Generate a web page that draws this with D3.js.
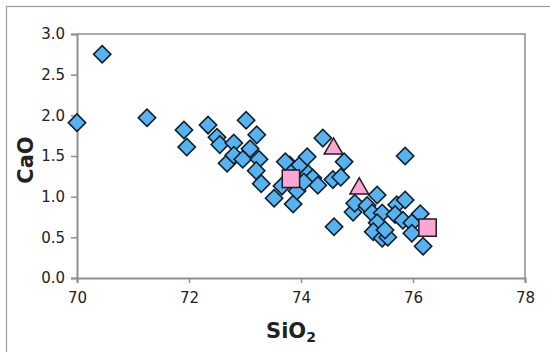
<!DOCTYPE html>
<html>
<head>
<meta charset="utf-8">
<script src="https://cdn.jsdelivr.net/npm/d3@7"></script>
<style>
  html, body { margin: 0; padding: 0; background: #fff; }
  svg { display: block; }
  text { font-family: "DejaVu Sans", Verdana, sans-serif; fill: #222; }
</style>
</head>
<body>
<svg id="chart" width="550" height="352"></svg>
<script>
// SiO2 (wt%) and CaO (wt%) for the sample set
const sio2 = [
  70.00, 70.45, 71.25, 71.91, 71.96, 72.34, 72.50, 72.55, 72.80, 72.68,
  72.80, 73.02, 73.21, 73.09, 72.96, 73.25, 73.20, 73.29, 73.52, 73.86,
  73.80, 73.66, 73.98, 74.11, 74.13, 74.21, 74.30, 74.39, 74.57, 74.71,
  74.77, 74.59, 74.93, 74.96, 75.18, 75.36, 75.27, 75.45, 75.36, 75.29,
  75.45, 75.55, 75.71, 75.86, 75.68, 75.82, 75.98, 76.13, 75.98, 76.18,
  75.86, 75.50, 73.93, 74.05, 73.72
];
const cao = [
  1.91, 2.75, 1.97, 1.82, 1.61, 1.88, 1.73, 1.64, 1.66, 1.41,
  1.51, 1.94, 1.76, 1.59, 1.46, 1.46, 1.32, 1.16, 0.98, 0.91,
  1.39, 1.13, 1.39, 1.49, 1.28, 1.23, 1.14, 1.72, 1.21, 1.24,
  1.43, 0.63, 0.81, 0.92, 0.89, 1.02, 0.80, 0.80, 0.68, 0.57,
  0.49, 0.50, 0.90, 0.96, 0.78, 0.71, 0.68, 0.79, 0.55, 0.39,
  1.50, 0.59, 1.07, 1.18, 1.43
];
// highlighted samples
const squareSiO2 = [73.82, 76.26];
const squareCaO  = [1.22, 0.62];
const triangleSiO2 = [74.58, 75.04];
const triangleCaO  = [1.59, 1.10];

const xTicks = [70, 72, 74, 76, 78];
const yTicks = [0, 0.5, 1.0, 1.5, 2.0, 2.5, 3.0];

const svg = d3.select("#chart");
const plotLeft = 77, plotRight = 525, plotTop = 34, plotBottom = 278;

const x = d3.scaleLinear().domain([70, 78]).range([plotLeft, plotRight]);
const y = d3.scaleLinear().domain([0, 3]).range([plotBottom, plotTop]);

// outer frame
svg.append("rect")
  .attr("x", 6.5).attr("y", 6.5)
  .attr("width", 600).attr("height", 400)
  .attr("fill", "none").attr("stroke", "#9a9a9a").attr("stroke-width", 1.2);

// plot area border (top and right)
svg.append("path")
  .attr("d", `M${plotLeft},${plotTop}H${plotRight}V${plotBottom}`)
  .attr("fill", "none").attr("stroke", "#8f8f8f").attr("stroke-width", 1.5);

// axes
const xAxis = svg.append("g")
  .attr("transform", `translate(0,${plotBottom})`)
  .call(d3.axisBottom(x).tickValues(xTicks).tickFormat(d3.format("d")).tickSizeOuter(0).tickSize(5).tickPadding(9));
const yAxis = svg.append("g")
  .attr("transform", `translate(${plotLeft},0)`)
  .call(d3.axisLeft(y).tickValues(yTicks).tickFormat(d3.format(".1f")).tickSizeOuter(0).tickSize(6).tickPadding(6));

[xAxis, yAxis].forEach(g => {
  g.select(".domain").attr("stroke", "#8f8f8f").attr("stroke-width", 2);
  g.selectAll(".tick line").attr("stroke", "#8f8f8f").attr("stroke-width", 1.5);
  g.selectAll(".tick text").attr("font-size", 15).attr("fill", "#222")
    .attr("font-family", "'DejaVu Sans', Verdana, sans-serif");
});

// axis titles
svg.append("text")
  .attr("transform", `translate(33,160) rotate(-90)`)
  .attr("text-anchor", "middle")
  .attr("font-size", 21).attr("font-weight", "bold")
  .text("CaO");

const xt = svg.append("text")
  .attr("x", 291).attr("y", 338)
  .attr("text-anchor", "middle")
  .attr("font-size", 21).attr("font-weight", "bold");
xt.append("tspan").text("SiO");
xt.append("tspan").attr("font-size", 14).attr("dy", 4).text("2");

// sample markers
const diamond = d3.symbol().type(d3.symbolSquare).size(150);
svg.append("g").selectAll("path")
  .data(sio2.map((v, i) => [v, cao[i]]))
  .join("path")
  .attr("d", diamond)
  .attr("transform", d => `translate(${x(d[0])},${y(d[1])}) rotate(45)`)
  .attr("fill", "#56b3f0").attr("stroke", "#10202e").attr("stroke-width", 1.6);

const square = d3.symbol().type(d3.symbolSquare).size(300);
svg.append("g").selectAll("path")
  .data(squareSiO2.map((v, i) => [v, squareCaO[i]]))
  .join("path")
  .attr("d", square)
  .attr("transform", d => `translate(${x(d[0])},${y(d[1])})`)
  .attr("fill", "#fba6d3").attr("stroke", "#2a1a22").attr("stroke-width", 1.5);

const tri = d3.symbol().type(d3.symbolTriangle).size(150);
svg.append("g").selectAll("path")
  .data(triangleSiO2.map((v, i) => [v, triangleCaO[i]]))
  .join("path")
  .attr("d", tri)
  .attr("transform", d => `translate(${x(d[0])},${y(d[1])})`)
  .attr("fill", "#fba6d3").attr("stroke", "#2a1a22").attr("stroke-width", 1.5);
</script>
</body>
</html>
